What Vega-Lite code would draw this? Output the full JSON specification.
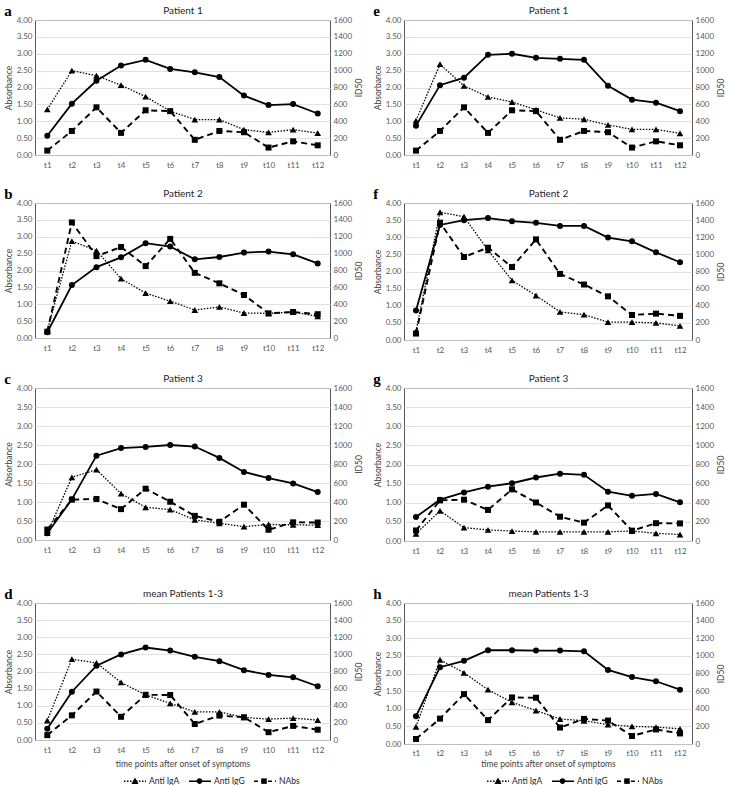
{
"$schema": "https://vega.github.io/schema/vega-lite/v6.json",
"padding": {"left": 3, "top": 3, "right": 2, "bottom": 1},
"datasets": {
"a": [
{"t":1,"Anti IgA":1.35,"Anti IgG":0.57,"NAbs":52},{"t":2,"Anti IgA":2.5,"Anti IgG":1.52,"NAbs":285},{"t":3,"Anti IgA":2.35,"Anti IgG":2.2,"NAbs":565},{"t":4,"Anti IgA":2.07,"Anti IgG":2.65,"NAbs":262},{"t":5,"Anti IgA":1.73,"Anti IgG":2.82,"NAbs":530},{"t":6,"Anti IgA":1.3,"Anti IgG":2.55,"NAbs":520},{"t":7,"Anti IgA":1.05,"Anti IgG":2.45,"NAbs":180},{"t":8,"Anti IgA":1.05,"Anti IgG":2.31,"NAbs":285},{"t":9,"Anti IgA":0.75,"Anti IgG":1.76,"NAbs":270},{"t":10,"Anti IgA":0.67,"Anti IgG":1.48,"NAbs":88},{"t":11,"Anti IgA":0.75,"Anti IgG":1.51,"NAbs":162},{"t":12,"Anti IgA":0.65,"Anti IgG":1.23,"NAbs":115}
],
"e": [
{"t":1,"Anti IgA":1.02,"Anti IgG":0.87,"NAbs":52},{"t":2,"Anti IgA":2.69,"Anti IgG":2.07,"NAbs":285},{"t":3,"Anti IgA":2.05,"Anti IgG":2.29,"NAbs":565},{"t":4,"Anti IgA":1.72,"Anti IgG":2.97,"NAbs":262},{"t":5,"Anti IgA":1.57,"Anti IgG":3.0,"NAbs":530},{"t":6,"Anti IgA":1.34,"Anti IgG":2.88,"NAbs":520},{"t":7,"Anti IgA":1.1,"Anti IgG":2.85,"NAbs":180},{"t":8,"Anti IgA":1.06,"Anti IgG":2.82,"NAbs":285},{"t":9,"Anti IgA":0.89,"Anti IgG":2.05,"NAbs":270},{"t":10,"Anti IgA":0.76,"Anti IgG":1.64,"NAbs":88},{"t":11,"Anti IgA":0.76,"Anti IgG":1.55,"NAbs":162},{"t":12,"Anti IgA":0.64,"Anti IgG":1.3,"NAbs":115}
],
"b": [
{"t":1,"Anti IgA":0.22,"Anti IgG":0.17,"NAbs":75},{"t":2,"Anti IgA":2.87,"Anti IgG":1.57,"NAbs":1370},{"t":3,"Anti IgA":2.59,"Anti IgG":2.1,"NAbs":970},{"t":4,"Anti IgA":1.76,"Anti IgG":2.39,"NAbs":1078},{"t":5,"Anti IgA":1.33,"Anti IgG":2.81,"NAbs":852},{"t":6,"Anti IgA":1.09,"Anti IgG":2.71,"NAbs":1175},{"t":7,"Anti IgA":0.83,"Anti IgG":2.33,"NAbs":772},{"t":8,"Anti IgA":0.92,"Anti IgG":2.4,"NAbs":648},{"t":9,"Anti IgA":0.74,"Anti IgG":2.53,"NAbs":510},{"t":10,"Anti IgA":0.73,"Anti IgG":2.56,"NAbs":292},{"t":11,"Anti IgA":0.77,"Anti IgG":2.48,"NAbs":308},{"t":12,"Anti IgA":0.64,"Anti IgG":2.21,"NAbs":282}
],
"f": [
{"t":1,"Anti IgA":0.25,"Anti IgG":0.86,"NAbs":75},{"t":2,"Anti IgA":3.73,"Anti IgG":3.36,"NAbs":1370},{"t":3,"Anti IgA":3.6,"Anti IgG":3.5,"NAbs":970},{"t":4,"Anti IgA":2.62,"Anti IgG":3.56,"NAbs":1078},{"t":5,"Anti IgA":1.74,"Anti IgG":3.47,"NAbs":852},{"t":6,"Anti IgA":1.3,"Anti IgG":3.42,"NAbs":1175},{"t":7,"Anti IgA":0.82,"Anti IgG":3.33,"NAbs":772},{"t":8,"Anti IgA":0.74,"Anti IgG":3.33,"NAbs":648},{"t":9,"Anti IgA":0.52,"Anti IgG":2.99,"NAbs":510},{"t":10,"Anti IgA":0.52,"Anti IgG":2.88,"NAbs":292},{"t":11,"Anti IgA":0.5,"Anti IgG":2.56,"NAbs":308},{"t":12,"Anti IgA":0.41,"Anti IgG":2.27,"NAbs":282}
],
"c": [
{"t":1,"Anti IgA":0.18,"Anti IgG":0.18,"NAbs":110},{"t":2,"Anti IgA":1.65,"Anti IgG":1.07,"NAbs":425},{"t":3,"Anti IgA":1.85,"Anti IgG":2.22,"NAbs":432},{"t":4,"Anti IgA":1.22,"Anti IgG":2.42,"NAbs":325},{"t":5,"Anti IgA":0.86,"Anti IgG":2.45,"NAbs":540},{"t":6,"Anti IgA":0.8,"Anti IgG":2.5,"NAbs":403},{"t":7,"Anti IgA":0.53,"Anti IgG":2.46,"NAbs":254},{"t":8,"Anti IgA":0.44,"Anti IgG":2.16,"NAbs":192},{"t":9,"Anti IgA":0.35,"Anti IgG":1.79,"NAbs":372},{"t":10,"Anti IgA":0.41,"Anti IgG":1.63,"NAbs":108},{"t":11,"Anti IgA":0.4,"Anti IgG":1.49,"NAbs":186},{"t":12,"Anti IgA":0.39,"Anti IgG":1.26,"NAbs":184}
],
"g": [
{"t":1,"Anti IgA":0.19,"Anti IgG":0.63,"NAbs":110},{"t":2,"Anti IgA":0.79,"Anti IgG":1.08,"NAbs":425},{"t":3,"Anti IgA":0.35,"Anti IgG":1.27,"NAbs":432},{"t":4,"Anti IgA":0.29,"Anti IgG":1.42,"NAbs":325},{"t":5,"Anti IgA":0.26,"Anti IgG":1.51,"NAbs":540},{"t":6,"Anti IgA":0.24,"Anti IgG":1.66,"NAbs":403},{"t":7,"Anti IgA":0.24,"Anti IgG":1.76,"NAbs":254},{"t":8,"Anti IgA":0.24,"Anti IgG":1.73,"NAbs":192},{"t":9,"Anti IgA":0.24,"Anti IgG":1.29,"NAbs":372},{"t":10,"Anti IgA":0.26,"Anti IgG":1.18,"NAbs":108},{"t":11,"Anti IgA":0.2,"Anti IgG":1.23,"NAbs":186},{"t":12,"Anti IgA":0.17,"Anti IgG":1.01,"NAbs":184}
],
"d": [
{"t":1,"Anti IgA":0.57,"Anti IgG":0.33,"NAbs":57},{"t":2,"Anti IgA":2.36,"Anti IgG":1.41,"NAbs":288},{"t":3,"Anti IgA":2.25,"Anti IgG":2.17,"NAbs":566},{"t":4,"Anti IgA":1.68,"Anti IgG":2.5,"NAbs":271},{"t":5,"Anti IgA":1.32,"Anti IgG":2.7,"NAbs":528},{"t":6,"Anti IgA":1.07,"Anti IgG":2.61,"NAbs":525},{"t":7,"Anti IgA":0.82,"Anti IgG":2.43,"NAbs":187},{"t":8,"Anti IgA":0.82,"Anti IgG":2.3,"NAbs":285},{"t":9,"Anti IgA":0.66,"Anti IgG":2.04,"NAbs":266},{"t":10,"Anti IgA":0.61,"Anti IgG":1.9,"NAbs":91},{"t":11,"Anti IgA":0.64,"Anti IgG":1.83,"NAbs":165},{"t":12,"Anti IgA":0.58,"Anti IgG":1.57,"NAbs":120}
],
"h": [
{"t":1,"Anti IgA":0.49,"Anti IgG":0.79,"NAbs":57},{"t":2,"Anti IgA":2.39,"Anti IgG":2.18,"NAbs":288},{"t":3,"Anti IgA":2.02,"Anti IgG":2.36,"NAbs":566},{"t":4,"Anti IgA":1.54,"Anti IgG":2.66,"NAbs":271},{"t":5,"Anti IgA":1.18,"Anti IgG":2.66,"NAbs":528},{"t":6,"Anti IgA":0.95,"Anti IgG":2.65,"NAbs":525},{"t":7,"Anti IgA":0.71,"Anti IgG":2.65,"NAbs":187},{"t":8,"Anti IgA":0.66,"Anti IgG":2.63,"NAbs":285},{"t":9,"Anti IgA":0.55,"Anti IgG":2.1,"NAbs":266},{"t":10,"Anti IgA":0.5,"Anti IgG":1.9,"NAbs":91},{"t":11,"Anti IgA":0.48,"Anti IgG":1.78,"NAbs":165},{"t":12,"Anti IgA":0.43,"Anti IgG":1.54,"NAbs":120}
]
},
"vconcat": [
{"vconcat": [
{"hconcat": [
{"data": {"name": "a"}, "width": 295, "height": 135, "title": {"text": "a"},
 "layer": [
  {"transform": [{"fold": ["Anti IgA", "Anti IgG"], "as": ["series", "val"]}],
   "encoding": {"x": {"field": "t", "type": "quantitative", "scale": {"domain": [0.5, 12.5], "nice": false, "zero": false}, "axis": {"values": [1,2,3,4,5,6,7,8,9,10,11,12], "labelExpr": "'t' + datum.value", "title": null, "grid": false, "labelPadding": 6, "labelOverlap": false, "labelFlush": false}},
                "y": {"field": "val", "type": "quantitative", "scale": {"domain": [0, 4]}, "axis": {"title": "Absorbance", "values": [0,0.5,1,1.5,2,2.5,3,3.5,4], "format": ".2f", "grid": true, "labelOverlap": false}}},
   "layer": [
    {"transform": [{"filter": "datum.series == 'Anti IgA'"}], "mark": {"type": "line", "color": "black", "strokeWidth": 1.3, "strokeDash": [1.5, 1.5]}, "encoding": {}},
    {"transform": [{"filter": "datum.series == 'Anti IgA'"}], "mark": {"type": "point", "shape": "triangle-up", "filled": true, "color": "black", "size": 45, "opacity": 1}, "encoding": {}},
    {"transform": [{"filter": "datum.series == 'Anti IgG'"}], "mark": {"type": "line", "color": "black", "strokeWidth": 1.8}, "encoding": {}},
    {"transform": [{"filter": "datum.series == 'Anti IgG'"}], "mark": {"type": "point", "shape": "circle", "filled": true, "color": "black", "size": 36, "opacity": 1}, "encoding": {}}
   ]},
  {"encoding": {"x": {"field": "t", "type": "quantitative", "axis": {"orient": "top", "labels": false, "grid": false, "values": [], "title": "Patient 1"}},
                "y": {"field": "NAbs", "type": "quantitative", "scale": {"domain": [0, 1600]}, "axis": {"orient": "right", "title": "ID50", "values": [0,200,400,600,800,1000,1200,1400,1600], "format": "d", "grid": false, "titleAngle": -90, "titleBaseline": "top", "labelOverlap": false}}},
   "layer": [
    {"mark": {"type": "line", "color": "black", "strokeWidth": 1.9, "strokeDash": [6, 4]}, "encoding": {}},
    {"mark": {"type": "point", "shape": "square", "filled": true, "color": "black", "size": 36, "opacity": 1}, "encoding": {}}
   ]}
 ],
 "resolve": {"scale": {"y": "independent"}, "axis": {"x": "independent"}}
},
{"data": {"name": "e"}, "width": 288, "height": 135, "title": {"text": "e"},
 "layer": [
  {"transform": [{"fold": ["Anti IgA", "Anti IgG"], "as": ["series", "val"]}],
   "encoding": {"x": {"field": "t", "type": "quantitative", "scale": {"domain": [0.5, 12.5], "nice": false, "zero": false}, "axis": {"values": [1,2,3,4,5,6,7,8,9,10,11,12], "labelExpr": "'t' + datum.value", "title": null, "grid": false, "labelPadding": 6, "labelOverlap": false, "labelFlush": false}},
                "y": {"field": "val", "type": "quantitative", "scale": {"domain": [0, 4]}, "axis": {"title": "Absorbance", "values": [0,0.5,1,1.5,2,2.5,3,3.5,4], "format": ".2f", "grid": true, "labelOverlap": false}}},
   "layer": [
    {"transform": [{"filter": "datum.series == 'Anti IgA'"}], "mark": {"type": "line", "color": "black", "strokeWidth": 1.3, "strokeDash": [1.5, 1.5]}, "encoding": {}},
    {"transform": [{"filter": "datum.series == 'Anti IgA'"}], "mark": {"type": "point", "shape": "triangle-up", "filled": true, "color": "black", "size": 45, "opacity": 1}, "encoding": {}},
    {"transform": [{"filter": "datum.series == 'Anti IgG'"}], "mark": {"type": "line", "color": "black", "strokeWidth": 1.8}, "encoding": {}},
    {"transform": [{"filter": "datum.series == 'Anti IgG'"}], "mark": {"type": "point", "shape": "circle", "filled": true, "color": "black", "size": 36, "opacity": 1}, "encoding": {}}
   ]},
  {"encoding": {"x": {"field": "t", "type": "quantitative", "axis": {"orient": "top", "labels": false, "grid": false, "values": [], "title": "Patient 1"}},
                "y": {"field": "NAbs", "type": "quantitative", "scale": {"domain": [0, 1600]}, "axis": {"orient": "right", "title": "ID50", "values": [0,200,400,600,800,1000,1200,1400,1600], "format": "d", "grid": false, "titleAngle": -90, "titleBaseline": "top", "labelOverlap": false}}},
   "layer": [
    {"mark": {"type": "line", "color": "black", "strokeWidth": 1.9, "strokeDash": [6, 4]}, "encoding": {}},
    {"mark": {"type": "point", "shape": "square", "filled": true, "color": "black", "size": 36, "opacity": 1}, "encoding": {}}
   ]}
 ],
 "resolve": {"scale": {"y": "independent"}, "axis": {"x": "independent"}}
}
]},
{"hconcat": [
{"data": {"name": "b"}, "width": 295, "height": 135, "title": {"text": "b"},
 "layer": [
  {"transform": [{"fold": ["Anti IgA", "Anti IgG"], "as": ["series", "val"]}],
   "encoding": {"x": {"field": "t", "type": "quantitative", "scale": {"domain": [0.5, 12.5], "nice": false, "zero": false}, "axis": {"values": [1,2,3,4,5,6,7,8,9,10,11,12], "labelExpr": "'t' + datum.value", "title": null, "grid": false, "labelPadding": 6, "labelOverlap": false, "labelFlush": false}},
                "y": {"field": "val", "type": "quantitative", "scale": {"domain": [0, 4]}, "axis": {"title": "Absorbance", "values": [0,0.5,1,1.5,2,2.5,3,3.5,4], "format": ".2f", "grid": true, "labelOverlap": false}}},
   "layer": [
    {"transform": [{"filter": "datum.series == 'Anti IgA'"}], "mark": {"type": "line", "color": "black", "strokeWidth": 1.3, "strokeDash": [1.5, 1.5]}, "encoding": {}},
    {"transform": [{"filter": "datum.series == 'Anti IgA'"}], "mark": {"type": "point", "shape": "triangle-up", "filled": true, "color": "black", "size": 45, "opacity": 1}, "encoding": {}},
    {"transform": [{"filter": "datum.series == 'Anti IgG'"}], "mark": {"type": "line", "color": "black", "strokeWidth": 1.8}, "encoding": {}},
    {"transform": [{"filter": "datum.series == 'Anti IgG'"}], "mark": {"type": "point", "shape": "circle", "filled": true, "color": "black", "size": 36, "opacity": 1}, "encoding": {}}
   ]},
  {"encoding": {"x": {"field": "t", "type": "quantitative", "axis": {"orient": "top", "labels": false, "grid": false, "values": [], "title": "Patient 2"}},
                "y": {"field": "NAbs", "type": "quantitative", "scale": {"domain": [0, 1600]}, "axis": {"orient": "right", "title": "ID50", "values": [0,200,400,600,800,1000,1200,1400,1600], "format": "d", "grid": false, "titleAngle": -90, "titleBaseline": "top", "labelOverlap": false}}},
   "layer": [
    {"mark": {"type": "line", "color": "black", "strokeWidth": 1.9, "strokeDash": [6, 4]}, "encoding": {}},
    {"mark": {"type": "point", "shape": "square", "filled": true, "color": "black", "size": 36, "opacity": 1}, "encoding": {}}
   ]}
 ],
 "resolve": {"scale": {"y": "independent"}, "axis": {"x": "independent"}}
},
{"data": {"name": "f"}, "width": 288, "height": 137, "title": {"text": "f"},
 "layer": [
  {"transform": [{"fold": ["Anti IgA", "Anti IgG"], "as": ["series", "val"]}],
   "encoding": {"x": {"field": "t", "type": "quantitative", "scale": {"domain": [0.5, 12.5], "nice": false, "zero": false}, "axis": {"values": [1,2,3,4,5,6,7,8,9,10,11,12], "labelExpr": "'t' + datum.value", "title": null, "grid": false, "labelPadding": 6, "labelOverlap": false, "labelFlush": false}},
                "y": {"field": "val", "type": "quantitative", "scale": {"domain": [0, 4]}, "axis": {"title": "Absorbance", "values": [0,0.5,1,1.5,2,2.5,3,3.5,4], "format": ".2f", "grid": true, "labelOverlap": false}}},
   "layer": [
    {"transform": [{"filter": "datum.series == 'Anti IgA'"}], "mark": {"type": "line", "color": "black", "strokeWidth": 1.3, "strokeDash": [1.5, 1.5]}, "encoding": {}},
    {"transform": [{"filter": "datum.series == 'Anti IgA'"}], "mark": {"type": "point", "shape": "triangle-up", "filled": true, "color": "black", "size": 45, "opacity": 1}, "encoding": {}},
    {"transform": [{"filter": "datum.series == 'Anti IgG'"}], "mark": {"type": "line", "color": "black", "strokeWidth": 1.8}, "encoding": {}},
    {"transform": [{"filter": "datum.series == 'Anti IgG'"}], "mark": {"type": "point", "shape": "circle", "filled": true, "color": "black", "size": 36, "opacity": 1}, "encoding": {}}
   ]},
  {"encoding": {"x": {"field": "t", "type": "quantitative", "axis": {"orient": "top", "labels": false, "grid": false, "values": [], "title": "Patient 2"}},
                "y": {"field": "NAbs", "type": "quantitative", "scale": {"domain": [0, 1600]}, "axis": {"orient": "right", "title": "ID50", "values": [0,200,400,600,800,1000,1200,1400,1600], "format": "d", "grid": false, "titleAngle": -90, "titleBaseline": "top", "labelOverlap": false}}},
   "layer": [
    {"mark": {"type": "line", "color": "black", "strokeWidth": 1.9, "strokeDash": [6, 4]}, "encoding": {}},
    {"mark": {"type": "point", "shape": "square", "filled": true, "color": "black", "size": 36, "opacity": 1}, "encoding": {}}
   ]}
 ],
 "resolve": {"scale": {"y": "independent"}, "axis": {"x": "independent"}}
}
]},
{"hconcat": [
{"data": {"name": "c"}, "width": 295, "height": 152, "title": {"text": "c"},
 "layer": [
  {"transform": [{"fold": ["Anti IgA", "Anti IgG"], "as": ["series", "val"]}],
   "encoding": {"x": {"field": "t", "type": "quantitative", "scale": {"domain": [0.5, 12.5], "nice": false, "zero": false}, "axis": {"values": [1,2,3,4,5,6,7,8,9,10,11,12], "labelExpr": "'t' + datum.value", "title": null, "grid": false, "labelPadding": 6, "labelOverlap": false, "labelFlush": false}},
                "y": {"field": "val", "type": "quantitative", "scale": {"domain": [0, 4]}, "axis": {"title": "Absorbance", "values": [0,0.5,1,1.5,2,2.5,3,3.5,4], "format": ".2f", "grid": true, "labelOverlap": false}}},
   "layer": [
    {"transform": [{"filter": "datum.series == 'Anti IgA'"}], "mark": {"type": "line", "color": "black", "strokeWidth": 1.3, "strokeDash": [1.5, 1.5]}, "encoding": {}},
    {"transform": [{"filter": "datum.series == 'Anti IgA'"}], "mark": {"type": "point", "shape": "triangle-up", "filled": true, "color": "black", "size": 45, "opacity": 1}, "encoding": {}},
    {"transform": [{"filter": "datum.series == 'Anti IgG'"}], "mark": {"type": "line", "color": "black", "strokeWidth": 1.8}, "encoding": {}},
    {"transform": [{"filter": "datum.series == 'Anti IgG'"}], "mark": {"type": "point", "shape": "circle", "filled": true, "color": "black", "size": 36, "opacity": 1}, "encoding": {}}
   ]},
  {"encoding": {"x": {"field": "t", "type": "quantitative", "axis": {"orient": "top", "labels": false, "grid": false, "values": [], "title": "Patient 3"}},
                "y": {"field": "NAbs", "type": "quantitative", "scale": {"domain": [0, 1600]}, "axis": {"orient": "right", "title": "ID50", "values": [0,200,400,600,800,1000,1200,1400,1600], "format": "d", "grid": false, "titleAngle": -90, "titleBaseline": "top", "labelOverlap": false}}},
   "layer": [
    {"mark": {"type": "line", "color": "black", "strokeWidth": 1.9, "strokeDash": [6, 4]}, "encoding": {}},
    {"mark": {"type": "point", "shape": "square", "filled": true, "color": "black", "size": 36, "opacity": 1}, "encoding": {}}
   ]}
 ],
 "resolve": {"scale": {"y": "independent"}, "axis": {"x": "independent"}}
},
{"data": {"name": "g"}, "width": 288, "height": 153, "title": {"text": "g"},
 "layer": [
  {"transform": [{"fold": ["Anti IgA", "Anti IgG"], "as": ["series", "val"]}],
   "encoding": {"x": {"field": "t", "type": "quantitative", "scale": {"domain": [0.5, 12.5], "nice": false, "zero": false}, "axis": {"values": [1,2,3,4,5,6,7,8,9,10,11,12], "labelExpr": "'t' + datum.value", "title": null, "grid": false, "labelPadding": 6, "labelOverlap": false, "labelFlush": false}},
                "y": {"field": "val", "type": "quantitative", "scale": {"domain": [0, 4]}, "axis": {"title": "Absorbance", "values": [0,0.5,1,1.5,2,2.5,3,3.5,4], "format": ".2f", "grid": true, "labelOverlap": false}}},
   "layer": [
    {"transform": [{"filter": "datum.series == 'Anti IgA'"}], "mark": {"type": "line", "color": "black", "strokeWidth": 1.3, "strokeDash": [1.5, 1.5]}, "encoding": {}},
    {"transform": [{"filter": "datum.series == 'Anti IgA'"}], "mark": {"type": "point", "shape": "triangle-up", "filled": true, "color": "black", "size": 45, "opacity": 1}, "encoding": {}},
    {"transform": [{"filter": "datum.series == 'Anti IgG'"}], "mark": {"type": "line", "color": "black", "strokeWidth": 1.8}, "encoding": {}},
    {"transform": [{"filter": "datum.series == 'Anti IgG'"}], "mark": {"type": "point", "shape": "circle", "filled": true, "color": "black", "size": 36, "opacity": 1}, "encoding": {}}
   ]},
  {"encoding": {"x": {"field": "t", "type": "quantitative", "axis": {"orient": "top", "labels": false, "grid": false, "values": [], "title": "Patient 3"}},
                "y": {"field": "NAbs", "type": "quantitative", "scale": {"domain": [0, 1600]}, "axis": {"orient": "right", "title": "ID50", "values": [0,200,400,600,800,1000,1200,1400,1600], "format": "d", "grid": false, "titleAngle": -90, "titleBaseline": "top", "labelOverlap": false}}},
   "layer": [
    {"mark": {"type": "line", "color": "black", "strokeWidth": 1.9, "strokeDash": [6, 4]}, "encoding": {}},
    {"mark": {"type": "point", "shape": "square", "filled": true, "color": "black", "size": 36, "opacity": 1}, "encoding": {}}
   ]}
 ],
 "resolve": {"scale": {"y": "independent"}, "axis": {"x": "independent"}}
}
]}
], "spacing": 16},
{"hconcat": [
{"data": {"name": "d"}, "width": 295, "height": 137, "title": {"text": "d"},
 "layer": [
  {"transform": [{"fold": ["Anti IgA", "Anti IgG"], "as": ["series", "val"]}],
   "encoding": {"x": {"field": "t", "type": "quantitative", "scale": {"domain": [0.5, 12.5], "nice": false, "zero": false}, "axis": {"values": [1,2,3,4,5,6,7,8,9,10,11,12], "labelExpr": "'t' + datum.value", "title": "time points after onset of symptoms", "grid": false, "labelPadding": 6, "titlePadding": 5, "labelOverlap": false, "labelFlush": false}},
                "y": {"field": "val", "type": "quantitative", "scale": {"domain": [0, 4]}, "axis": {"title": "Absorbance", "values": [0,0.5,1,1.5,2,2.5,3,3.5,4], "format": ".2f", "grid": true, "labelOverlap": false}}},
   "layer": [
    {"transform": [{"filter": "datum.series == 'Anti IgA'"}], "mark": {"type": "line", "color": "black", "strokeWidth": 1.3, "strokeDash": [1.5, 1.5]}, "encoding": {}},
    {"transform": [{"filter": "datum.series == 'Anti IgA'"}], "mark": {"type": "point", "shape": "triangle-up", "filled": true, "color": "black", "size": 45, "opacity": 1}, "encoding": {}},
    {"transform": [{"filter": "datum.series == 'Anti IgG'"}], "mark": {"type": "line", "color": "black", "strokeWidth": 1.8}, "encoding": {}},
    {"transform": [{"filter": "datum.series == 'Anti IgG'"}], "mark": {"type": "point", "shape": "circle", "filled": true, "color": "black", "size": 36, "opacity": 1}, "encoding": {}}
   ]},
  {"encoding": {"x": {"field": "t", "type": "quantitative", "axis": {"orient": "top", "labels": false, "grid": false, "values": [], "title": "mean Patients 1-3"}},
                "y": {"field": "NAbs", "type": "quantitative", "scale": {"domain": [0, 1600]}, "axis": {"orient": "right", "title": "ID50", "values": [0,200,400,600,800,1000,1200,1400,1600], "format": "d", "grid": false, "titleAngle": -90, "titleBaseline": "top", "labelOverlap": false}}},
   "layer": [
    {"mark": {"type": "line", "color": "black", "strokeWidth": 1.9, "strokeDash": [6, 4]}, "encoding": {}},
    {"mark": {"type": "point", "shape": "square", "filled": true, "color": "black", "size": 36, "opacity": 1}, "encoding": {}}
   ]},
  {"transform": [{"fold": ["Anti IgA", "Anti IgG", "NAbs"], "as": ["series", "val"]}],
   "mark": {"type": "line", "color": "black", "strokeWidth": 1.5, "opacity": 0},
   "encoding": {
    "strokeDash": {"field": "series", "type": "nominal", "scale": {"range": [[1.5, 1.5], [1, 0], [4, 3]]}, "legend": {"orient": "none", "legendX": 88, "legendY": 166, "direction": "horizontal", "columns": 3, "gridAlign": "all", "title": null, "symbolSize": 484, "symbolOpacity": 1, "symbolStrokeColor": "black", "symbolStrokeWidth": 1.5, "labelFontSize": 8.5, "labelColor": "#262626", "columnPadding": 6, "labelOffset": 2}}
   }},
  {"transform": [{"fold": ["Anti IgA", "Anti IgG", "NAbs"], "as": ["series2", "val2"]}],
   "mark": {"type": "point", "filled": true, "color": "black", "opacity": 0},
   "encoding": {
    "shape": {"field": "series2", "type": "nominal", "scale": {"domain": ["Anti IgA", "Anti IgG", "NAbs"], "range": ["M0,-0.32L0.32,0.26L-0.32,0.26Z", "M0.26,0A0.26,0.26,0,1,1,-0.26,0A0.26,0.26,0,1,1,0.26,0Z", "M-0.25,-0.25H0.25V0.25H-0.25Z"]}, "legend": {"orient": "none", "legendX": 88, "legendY": 166, "direction": "horizontal", "columns": 3, "gridAlign": "all", "title": null, "symbolSize": 484, "symbolOpacity": 1, "symbolFillColor": "black", "labelExpr": "''", "labelFontSize": 8.5, "columnPadding": 38.5, "labelOffset": 2}}
   }}
 ],
 "resolve": {"scale": {"y": "independent"}, "axis": {"x": "independent"}}
},
{"data": {"name": "h"}, "width": 288, "height": 141, "title": {"text": "h"},
 "layer": [
  {"transform": [{"fold": ["Anti IgA", "Anti IgG"], "as": ["series", "val"]}],
   "encoding": {"x": {"field": "t", "type": "quantitative", "scale": {"domain": [0.5, 12.5], "nice": false, "zero": false}, "axis": {"values": [1,2,3,4,5,6,7,8,9,10,11,12], "labelExpr": "'t' + datum.value", "title": "time points after onset of symptoms", "grid": false, "labelPadding": 5, "titlePadding": 2, "labelOverlap": false, "labelFlush": false}},
                "y": {"field": "val", "type": "quantitative", "scale": {"domain": [0, 4]}, "axis": {"title": "Absorbance", "values": [0,0.5,1,1.5,2,2.5,3,3.5,4], "format": ".2f", "grid": true, "labelOverlap": false}}},
   "layer": [
    {"transform": [{"filter": "datum.series == 'Anti IgA'"}], "mark": {"type": "line", "color": "black", "strokeWidth": 1.3, "strokeDash": [1.5, 1.5]}, "encoding": {}},
    {"transform": [{"filter": "datum.series == 'Anti IgA'"}], "mark": {"type": "point", "shape": "triangle-up", "filled": true, "color": "black", "size": 45, "opacity": 1}, "encoding": {}},
    {"transform": [{"filter": "datum.series == 'Anti IgG'"}], "mark": {"type": "line", "color": "black", "strokeWidth": 1.8}, "encoding": {}},
    {"transform": [{"filter": "datum.series == 'Anti IgG'"}], "mark": {"type": "point", "shape": "circle", "filled": true, "color": "black", "size": 36, "opacity": 1}, "encoding": {}}
   ]},
  {"encoding": {"x": {"field": "t", "type": "quantitative", "axis": {"orient": "top", "labels": false, "grid": false, "values": [], "title": "mean Patients 1-3"}},
                "y": {"field": "NAbs", "type": "quantitative", "scale": {"domain": [0, 1600]}, "axis": {"orient": "right", "title": "ID50", "values": [0,200,400,600,800,1000,1200,1400,1600], "format": "d", "grid": false, "titleAngle": -90, "titleBaseline": "top", "labelOverlap": false}}},
   "layer": [
    {"mark": {"type": "line", "color": "black", "strokeWidth": 1.9, "strokeDash": [6, 4]}, "encoding": {}},
    {"mark": {"type": "point", "shape": "square", "filled": true, "color": "black", "size": 36, "opacity": 1}, "encoding": {}}
   ]},
  {"transform": [{"fold": ["Anti IgA", "Anti IgG", "NAbs"], "as": ["series", "val"]}],
   "mark": {"type": "line", "color": "black", "strokeWidth": 1.5, "opacity": 0},
   "encoding": {
    "strokeDash": {"field": "series", "type": "nominal", "scale": {"range": [[1.5, 1.5], [1, 0], [4, 3]]}, "legend": {"orient": "none", "legendX": 82, "legendY": 166, "direction": "horizontal", "columns": 3, "gridAlign": "all", "title": null, "symbolSize": 484, "symbolOpacity": 1, "symbolStrokeColor": "black", "symbolStrokeWidth": 1.5, "labelFontSize": 8.5, "labelColor": "#262626", "columnPadding": 6, "labelOffset": 2}}
   }},
  {"transform": [{"fold": ["Anti IgA", "Anti IgG", "NAbs"], "as": ["series2", "val2"]}],
   "mark": {"type": "point", "filled": true, "color": "black", "opacity": 0},
   "encoding": {
    "shape": {"field": "series2", "type": "nominal", "scale": {"domain": ["Anti IgA", "Anti IgG", "NAbs"], "range": ["M0,-0.32L0.32,0.26L-0.32,0.26Z", "M0.26,0A0.26,0.26,0,1,1,-0.26,0A0.26,0.26,0,1,1,0.26,0Z", "M-0.25,-0.25H0.25V0.25H-0.25Z"]}, "legend": {"orient": "none", "legendX": 82, "legendY": 166, "direction": "horizontal", "columns": 3, "gridAlign": "all", "title": null, "symbolSize": 484, "symbolOpacity": 1, "symbolFillColor": "black", "labelExpr": "''", "labelFontSize": 8.5, "columnPadding": 38.5, "labelOffset": 2}}
   }}
 ],
 "resolve": {"scale": {"y": "independent"}, "axis": {"x": "independent"}}
}
], "spacing": 8, "resolve": {"scale": {"shape": "independent", "strokeDash": "independent"}, "legend": {"shape": "independent", "strokeDash": "independent"}}}
],
"spacing": 30,
"resolve": {"scale": {"shape": "independent", "strokeDash": "independent"}, "legend": {"shape": "independent", "strokeDash": "independent"}},
"config": {
 "font": "Lato",
 "view": {"stroke": "#595959", "strokeWidth": 1},
 "concat": {"spacing": 8},
 "axis": {"labelFont": "Lato", "titleFont": "Lato", "labelFontSize": 8, "labelColor": "#595959", "titleFontSize": 8.5, "titleFontWeight": "normal", "titleColor": "#404040", "ticks": false, "domain": false, "gridColor": "#d9d9d9", "gridWidth": 0.8, "labelPadding": 3, "titlePadding": 3},
 "axisTop": {"titleFontSize": 10, "titleColor": "#262626", "titlePadding": 5},
 "title": {"anchor": "start", "frame": "bounds", "offset": -14, "font": "Liberation Serif", "fontSize": 15, "fontWeight": "bold", "color": "black"},
 "legend": {"labelFont": "Lato"}
}
}
